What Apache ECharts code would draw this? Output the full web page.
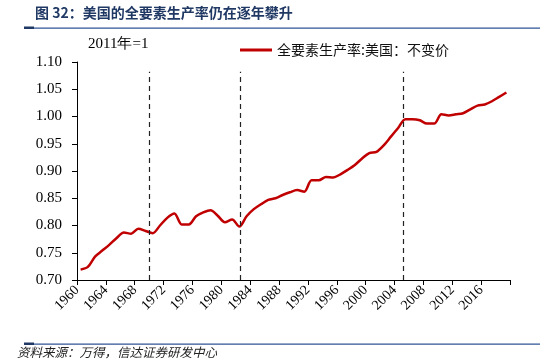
<!DOCTYPE html>
<html><head><meta charset="utf-8">
<script src="https://cdn.jsdelivr.net/npm/echarts@6/dist/echarts.min.js"></script>
<style>html,body{margin:0;padding:0;background:#fff}#c{width:548px;height:360px}</style>
</head><body><div id="c"></div>
<script>
var years = [];
for (var y = 1960; y <= 2019; y++) years.push(y);
var tfpUS = [
  0.719,0.724,0.743,0.754,0.765,0.777,0.787,0.785,0.794,0.790,
  0.786,0.800,0.814,0.822,0.802,0.802,0.817,0.824,0.828,0.818,
  0.806,0.811,0.798,0.817,0.830,0.839,0.847,0.850,0.856,0.861,
  0.865,0.862,0.883,0.883,0.889,0.888,0.894,0.902,0.911,0.923,
  0.933,0.935,0.947,0.963,0.979,0.995,0.995,0.993,0.987,0.987,
  1.004,1.002,1.004,1.006,1.013,1.020,1.022,1.028,1.036,1.044
];
var markYears = [1970.0, 1982.6, 2005.2];
var seriesName = '全要素生产率:美国：不变价';
var titleText = '图 32：美国的全要素生产率仍在逐年攀升';
var unitText = '2011年=1';
var sourceText = '资料来源：万得，信达证券研发中心';

var chart = echarts.init(document.getElementById('c'), null, {renderer: 'canvas'});
var lineData = years.map(function (yr, i) { return [yr + 0.5, tfpUS[i]]; });
var mlData = markYears.map(function (m) {
  return [{coord: [m, 0.7]}, {coord: [m, 1.082]}];
});
var serif = '"Liberation Serif","Times New Roman",serif';
var cjk = '"Noto Sans CJK SC","Noto Sans",sans-serif';
chart.setOption({
  animation: false,
  grid: {left: 77, right: 38, top: 62, bottom: 80},
  legend: {
    left: 235, top: 38, itemWidth: 32, itemHeight: 3, itemGap: 5,
    icon: 'rect',
    textStyle: {fontFamily: cjk, fontSize: 14, color: '#111'},
    data: [seriesName]
  },
  xAxis: {
    type: 'value', min: 1960, max: 2020, interval: 4,
    axisLine: {lineStyle: {color: '#000', width: 1}},
    axisTick: {show: true, length: 5, lineStyle: {color: '#000'}},
    splitLine: {show: false},
    axisLabel: {
      rotate: 45, margin: 8, fontFamily: serif, fontSize: 14, color: '#000',
      formatter: function (v) { return v >= 2020 ? '' : String(v); }
    }
  },
  yAxis: {
    type: 'value', min: 0.7, max: 1.1, interval: 0.05,
    axisLine: {show: true, lineStyle: {color: '#000', width: 1}},
    axisTick: {show: true, length: 5, lineStyle: {color: '#000'}},
    splitLine: {show: false},
    axisLabel: {
      margin: 15, fontFamily: serif, fontSize: 15, color: '#000',
      formatter: function (v) { return v.toFixed(2); }
    }
  },
  series: [{
    name: seriesName, type: 'line', data: lineData, smooth: 0.3,
    showSymbol: false, symbol: 'none',
    lineStyle: {color: '#C00000', width: 2.5},
    itemStyle: {color: '#C00000'},
    markLine: {
      silent: true, symbol: 'none', label: {show: false},
      lineStyle: {color: '#222', type: [5, 4], width: 1.2},
      data: mlData
    }
  }],
  graphic: [
    {type: 'text', left: 35, top: 6, style: {text: titleText, fontFamily: cjk, fontWeight: 'bold', fontSize: 14, fill: '#1F3864'}},
    {type: 'rect', shape: {x: 24, y: 27.5, width: 516, height: 1.3}, style: {fill: '#2F5496'}},
    {type: 'rect', shape: {x: 24, y: 26.5, width: 10, height: 2.5}, style: {fill: '#1F3864'}},
    {type: 'text', left: 88, top: 37, style: {text: unitText, fontFamily: serif, fontSize: 15, fill: '#000'}},
    {type: 'rect', shape: {x: 24, y: 343.5, width: 516, height: 1.3}, style: {fill: '#2F5496'}},
    {type: 'rect', shape: {x: 24, y: 342.5, width: 10, height: 2.5}, style: {fill: '#1F3864'}},
    {type: 'text', left: 17, top: 346, style: {text: sourceText, fontFamily: cjk, fontStyle: 'italic', fontSize: 12.5, fill: '#222'}}
  ]
});
</script></body></html>
